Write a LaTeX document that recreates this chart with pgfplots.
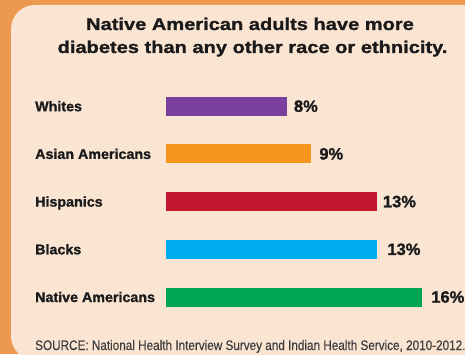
\documentclass[border=0pt]{standalone}
\usepackage{pgfplots}
\pgfplotsset{compat=1.18}
\usepackage{fontspec}
\setmainfont{Liberation Sans}
\newfontfamily\titlefont[FakeStretch=1.18,FakeBold=1.2]{Liberation Sans}
\newfontfamily\catfont[FakeStretch=1.02,FakeBold=1.2]{Liberation Sans}
\newfontfamily\valfont[FakeStretch=1.0,FakeBold=1.2]{Liberation Sans}
\newfontfamily\srcfont[FakeStretch=0.85,FakeBold=0.3]{Liberation Sans}
\definecolor{panel}{RGB}{250,228,210}
\definecolor{border}{RGB}{236,152,80}
\definecolor{cpurple}{RGB}{123,63,158}
\definecolor{corange}{RGB}{247,148,29}
\definecolor{cred}{RGB}{196,22,46}
\definecolor{cblue}{RGB}{0,174,239}
\definecolor{cgreen}{RGB}{0,166,81}
\definecolor{ink}{RGB}{26,26,26}
\definecolor{srcgray}{RGB}{60,60,60}
\begin{document}
\begin{tikzpicture}
\path[use as bounding box] (0,0) rectangle (465pt,354pt);
\begin{scope}
\clip (0,0) rectangle (465pt,354pt);
\fill[border] (0,0) rectangle (465pt,354pt);
\fill[panel, rounded corners=24pt] (11pt,-6pt) rectangle (500pt,349pt);
\end{scope}
\node[anchor=base, font=\titlefont\bfseries\fontsize{17pt}{20pt}\selectfont, text=ink, inner sep=0pt] at (250pt,324pt) {Native American adults have more};
\node[anchor=base, font=\titlefont\bfseries\fontsize{17pt}{20pt}\selectfont, text=ink, inner sep=0pt] at (252.5pt,301pt) {diabetes than any other race or ethnicity.};
\begin{axis}[
  at={(166pt,33.15pt)}, anchor=south west,
  scale only axis, width=288.7pt, height=238.5pt,
  xmin=0, xmax=18, ymin=-0.5, ymax=4.5,
  xbar, bar width=19pt, bar shift=0pt,
  axis line style={draw=none}, tick style={draw=none},
  xtick=\empty,
  ytick={0,1,2,3,4},
  yticklabels={Native Americans,Blacks,Hispanics,Asian Americans,Whites},
  major tick length=0pt,
  yticklabel style={anchor=base west, xshift=-131pt, yshift=-5pt, inner sep=0pt,
    font=\catfont\bfseries\fontsize{14pt}{16pt}\selectfont, text=ink},
  every node near coord/.append style={anchor=west, inner sep=0pt,
    font=\valfont\bfseries\fontsize{16.5pt}{18pt}\selectfont, text=ink},
  clip=false,
]
\addplot[fill=cpurple, draw=none, nodes near coords={8\%}, every node near coord/.append style={xshift=7pt}] coordinates {(7.53,4)};
\addplot[fill=corange, draw=none, nodes near coords={9\%}, every node near coord/.append style={xshift=8.5pt}] coordinates {(9.02,3)};
\addplot[fill=cred, draw=none, nodes near coords={13\%}, every node near coord/.append style={xshift=6pt}] coordinates {(13.14,2)};
\addplot[fill=cblue, draw=none, nodes near coords={13\%}, every node near coord/.append style={xshift=10pt}] coordinates {(13.17,1)};
\addplot[fill=cgreen, draw=none, nodes near coords={16\%}, every node near coord/.append style={xshift=9pt}] coordinates {(15.97,0)};
\end{axis}
\node[anchor=base west, font=\srcfont\fontsize{13.8pt}{15pt}\selectfont, text=srcgray, inner sep=0pt] at (35pt,4pt) {SOURCE: National Health Interview Survey and Indian Health Service, 2010-2012.};
\end{tikzpicture}
\end{document}
